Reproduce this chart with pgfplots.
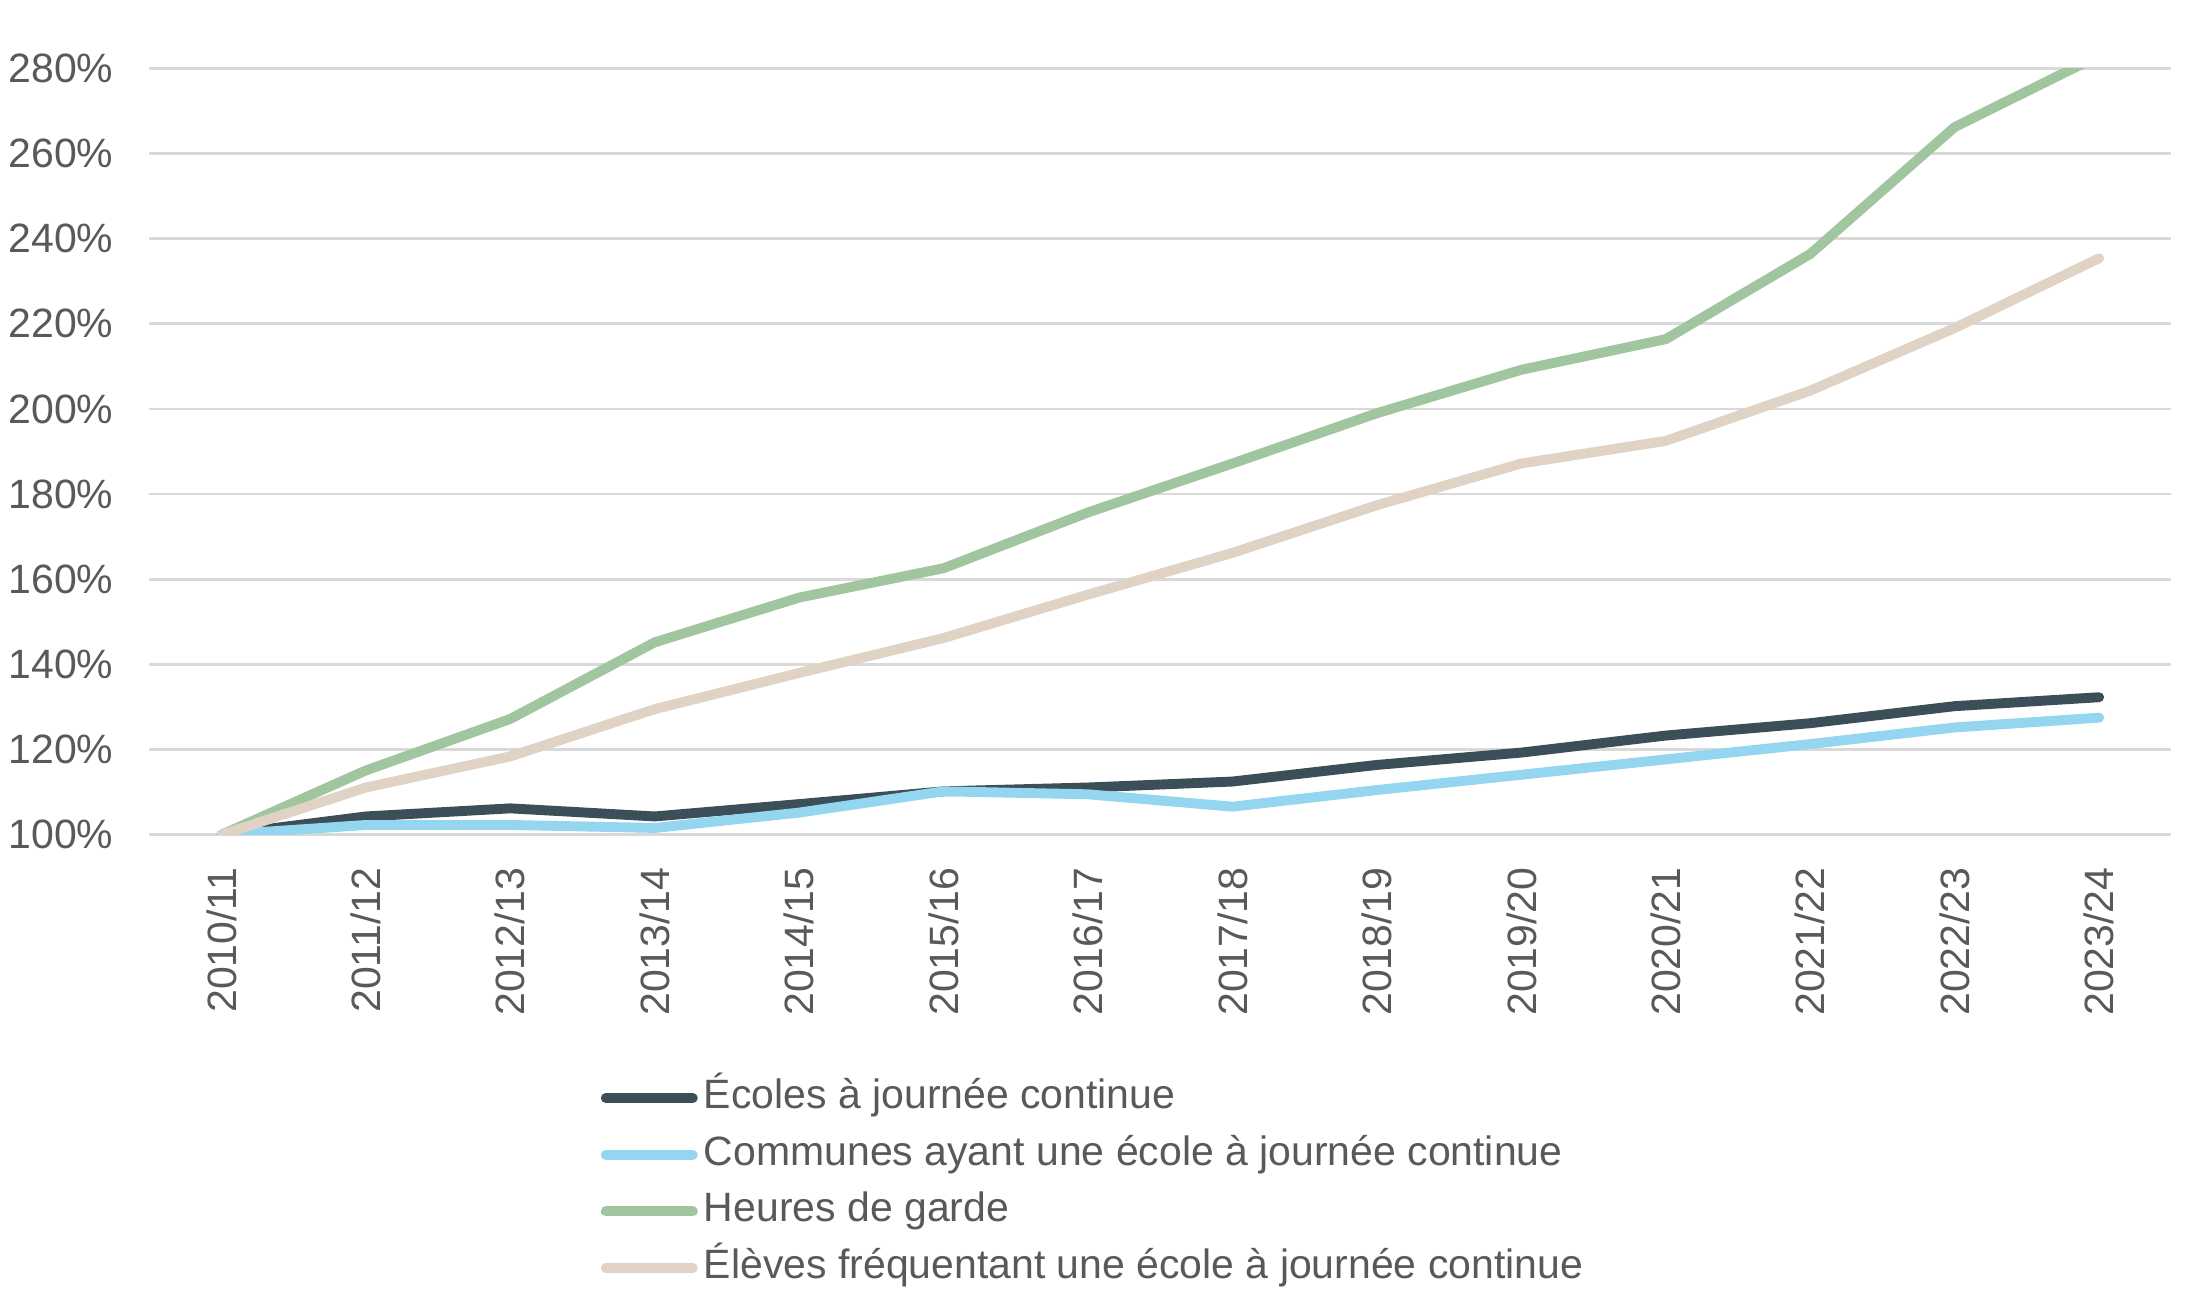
\documentclass[border=0pt]{standalone}
\usepackage{pgfplots}
\pgfplotsset{compat=1.18}
\usepackage{fontspec}
\setmainfont{Liberation Sans}
\definecolor{cdark}{HTML}{3C4F59}
\definecolor{cblue}{HTML}{94D6EF}
\definecolor{cgreen}{HTML}{A1C69F}
\definecolor{cbeige}{HTML}{E0D2C5}
\definecolor{cgrid}{HTML}{D9D9D9}
\definecolor{ctext}{HTML}{595959}
\begin{document}
\begin{tikzpicture}
\path[use as bounding box] (-43.7pt,-136.8pt) rectangle (596.3pt,244.5pt);
\begin{axis}[
  at={(0pt,0pt)}, anchor=south west,
  scale only axis, width=592.3pt, height=224.5pt,
  xmin=-0.5, xmax=13.5, ymin=100, ymax=280,
  xtick={0,1,...,13},
  xticklabels={2010/11,2011/12,2012/13,2013/14,2014/15,2015/16,2016/17,2017/18,2018/19,2019/20,2020/21,2021/22,2022/23,2023/24},
  ytick={100,120,...,280},
  yticklabel={\pgfmathprintnumber{\tick}\%},
  /pgf/number format/assume math mode=true,
  ticklabel style={font=\fontsize{12pt}{14pt}\selectfont, text=ctext},
  xticklabel style={rotate=90, anchor=east, xshift=-6.1pt},
  yticklabel style={xshift=-7pt},
  axis line style={draw=none},
  major tick length=0pt,
  ymajorgrids, grid style={cgrid, line width=0.8pt},
  every axis plot/.append style={line width=2.9pt, line cap=round, line join=round},
  legend cell align=left,
  legend style={at={(axis description cs:0.223,-0.3115)}, anchor=north west,
    draw=none, fill=none, inner sep=0pt, row sep=2.6pt,
    font=\fontsize{12pt}{14pt}\selectfont, text=ctext,
    nodes={inner sep=1pt, text height=9pt, text depth=3pt},
    column sep=0.8pt},
  legend image code/.code={\draw[#1, line width=2.9pt, line cap=round] (0pt,0pt) -- (25.5pt,0pt);},
]
\addplot[cdark] coordinates {(0,100) (1,104.3) (2,106.2) (3,104.3) (4,107.2) (5,110.2) (6,111.1) (7,112.5) (8,116.4) (9,119.3) (10,123.3) (11,126.2) (12,130.2) (13,132.3)};
\addlegendentry{Écoles à journée continue}
\addplot[cblue] coordinates {(0,100) (1,102.3) (2,102.3) (3,101.6) (4,105.2) (5,110.2) (6,109.5) (7,106.6) (8,110.5) (9,114.1) (10,117.7) (11,121.3) (12,125.2) (13,127.5)};
\addlegendentry{Communes ayant une école à journée continue}
\addplot[cgreen] coordinates {(0,100) (1,115.1) (2,127.2) (3,145.2) (4,155.7) (5,162.6) (6,175.7) (7,187.2) (8,199.0) (9,209.2) (10,216.4) (11,236.4) (12,266.2) (13,283.0)};
\addlegendentry{Heures de garde}
\addplot[cbeige] coordinates {(0,100) (1,111.1) (2,118.4) (3,129.5) (4,138.0) (5,146.2) (6,156.4) (7,166.2) (8,177.4) (9,187.2) (10,192.5) (11,204.3) (12,219.0) (13,235.4)};
\addlegendentry{Élèves fréquentant une école à journée continue}
\end{axis}
\end{tikzpicture}
\end{document}
